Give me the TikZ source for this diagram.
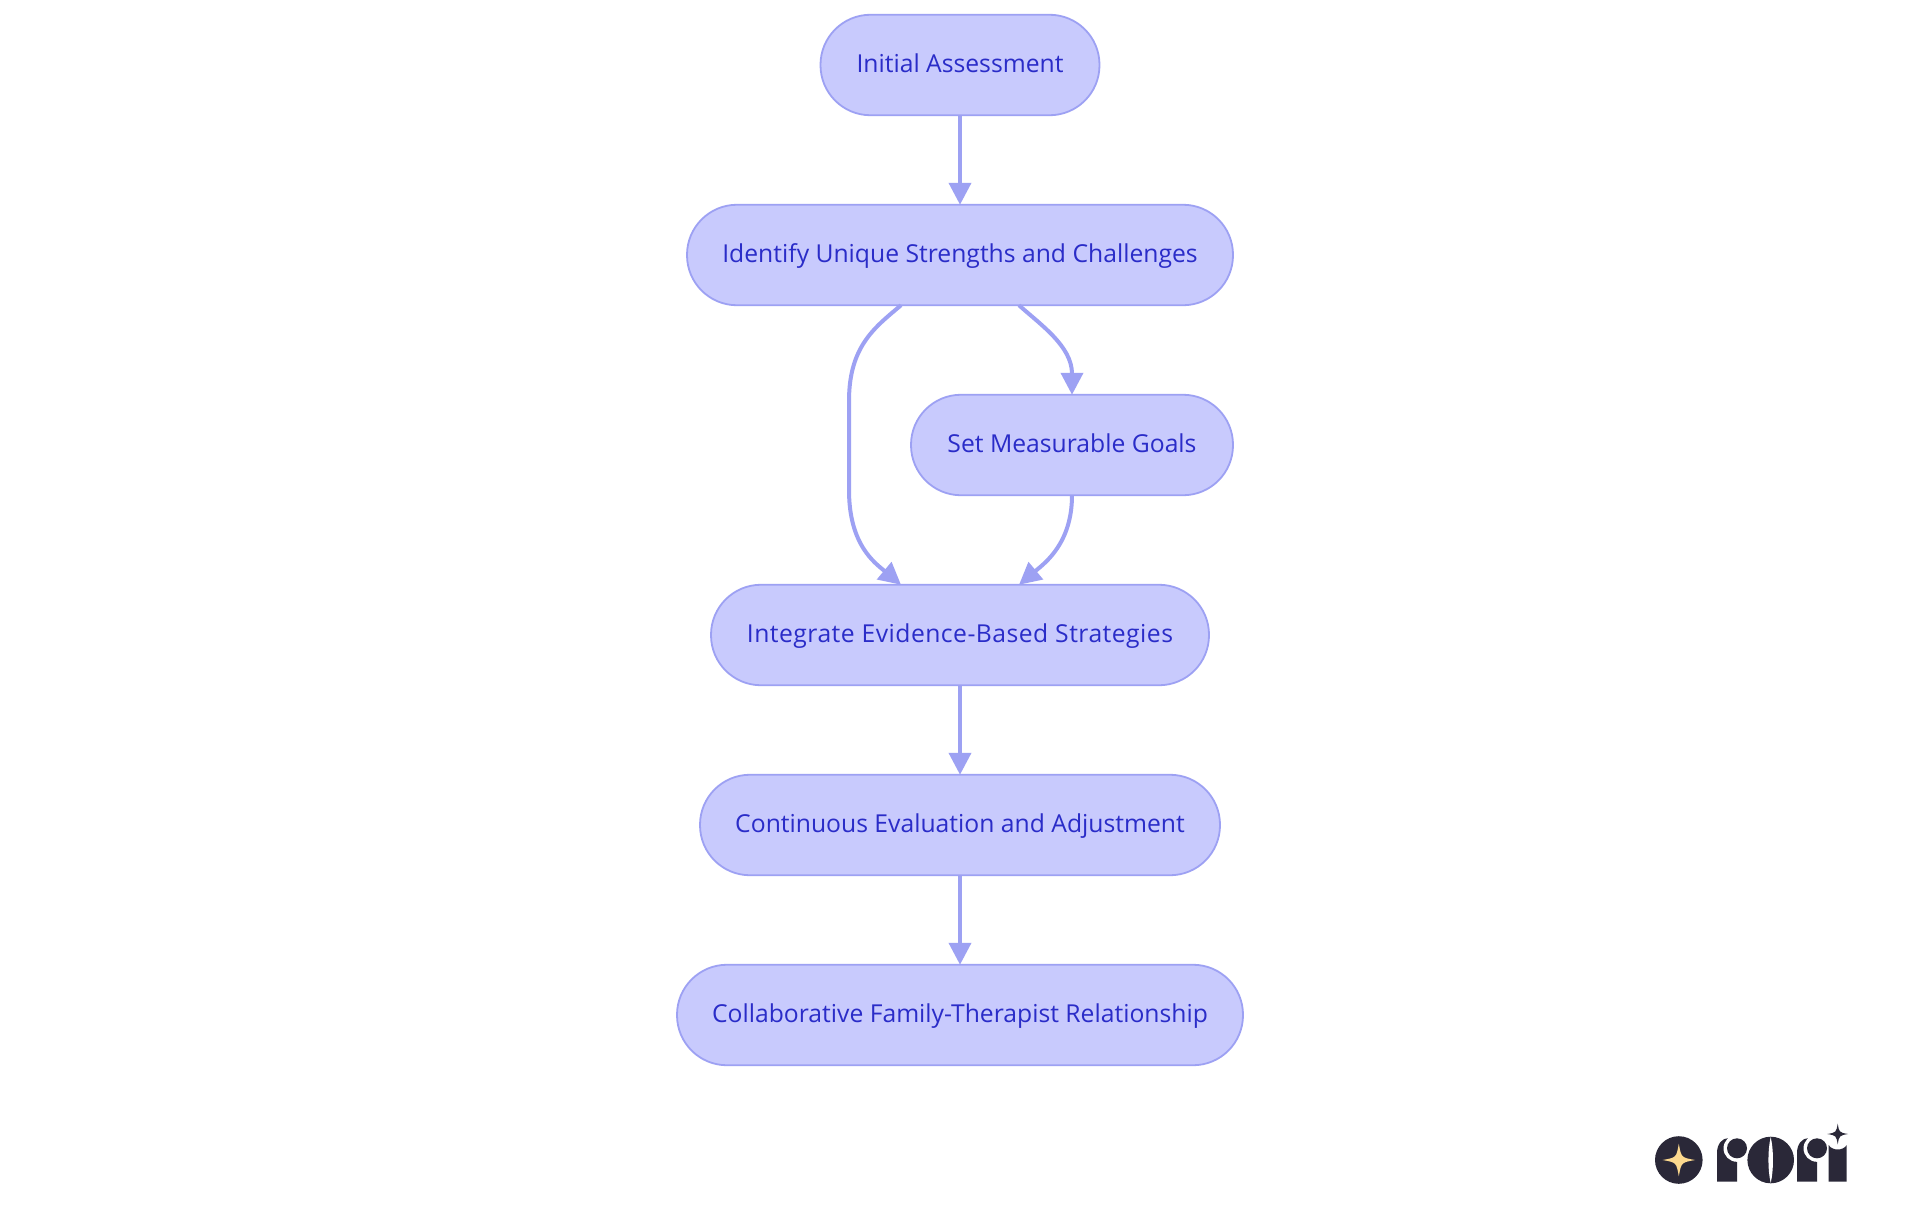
\documentclass[tikz,border=0pt]{standalone}
\usepackage{fontspec}
\setmainfont{Open Sans}
\usetikzlibrary{arrows.meta}
\definecolor{nodefill}{HTML}{C8CAFD}
\definecolor{nodeline}{HTML}{9DA1F3}
\definecolor{nodetext}{HTML}{2A2CC8}
\definecolor{logodark}{HTML}{2A2838}
\definecolor{logostar}{HTML}{FCD98E}
\tikzset{
  flowbox/.style={draw=nodeline,fill=nodefill,line width=1.8pt,outer sep=0pt,rounded corners=50pt,minimum height=100.5pt,text=nodetext,font=\fontsize{24.7}{30}\selectfont,inner sep=0pt,text height=20pt,text depth=5.2pt,anchor=center},
  flowline/.style={draw=nodeline,line width=4pt,-{Triangle[length=22pt,width=22pt]}},
}
\newcommand{\fourstar}[4]{\fill[#4] (#1+#3,#2) .. controls (#1+.15*#3,#2+.15*#3) .. (#1,#2+#3) .. controls (#1-.15*#3,#2+.15*#3) .. (#1-#3,#2) .. controls (#1-.15*#3,#2-.15*#3) .. (#1,#2-#3) .. controls (#1+.15*#3,#2-.15*#3) .. cycle;}
\begin{document}
\begin{tikzpicture}[x=1pt,y=-1pt]
\useasboundingbox (0,0) rectangle (1920,1215);
\fill[white] (0,0) rectangle (1920,1215);
\node[flowbox,minimum width=279pt] (a) at (960,65) {Initial Assessment};
\node[flowbox,minimum width=546pt] (b) at (960,255) {Identify Unique Strengths and Challenges};
\node[flowbox,minimum width=322pt] (c) at (1072,445) {Set Measurable Goals};
\node[flowbox,minimum width=498pt] (d) at (960,635) {\addfontfeature{LetterSpace=1.9}Integrate Evidence-Based Strategies};
\node[flowbox,minimum width=520pt] (e) at (960,825) {Continuous Evaluation and Adjustment};
\node[flowbox,minimum width=566pt] (f) at (960,1015) {Collaborative Family-Therapist Relationship};
\draw[flowline] (a.south) -- (b.north);
\draw[flowline] ([xshift=59pt]b.south) .. controls +(21,19) and (1072,346) .. (c.north);
\draw[flowline] ([xshift=-59pt]b.south) .. controls +(-26,22) and (849,346) .. (849,401) -- (849,490) .. controls (849,545) and (875,563) .. ([xshift=-59pt]d.north);
\draw[flowline] (c.south) .. controls +(0,48) and (1045,563) .. ([xshift=59pt]d.north);
\draw[flowline] (d.south) -- (e.north);
\draw[flowline] (e.south) -- (f.north);
% logo
\fill[logodark] (1678.8,1160) circle (23.8);
\fourstar{1678.8}{1160}{16.3}{logostar}
\fill[logodark] (1717,1181.7) -- (1717,1153) .. controls (1717,1144) and (1722,1138) .. (1729,1138) -- (1737,1148) -- (1737,1181.7) -- cycle;
\fill[white] (1737,1148.3) circle (13.5);
\fill[logodark] (1737,1148.3) circle (10);
\fill[logodark] (1770.7,1160) circle (23.3);
\fill[white] (1770.7,1137) .. controls (1767.7,1150) and (1767.7,1170) .. (1770.7,1183) .. controls (1773.7,1170) and (1773.7,1150) .. (1770.7,1137) -- cycle;
\fill[logodark] (1797,1181.7) -- (1797,1153) .. controls (1797,1144) and (1802,1138) .. (1809,1138) -- (1817,1148) -- (1817,1181.7) -- cycle;
\fill[white] (1817,1148.3) circle (13.5);
\fill[logodark] (1817,1148.3) circle (10);
\fill[logodark] (1828.7,1145) .. controls (1832,1151) and (1843.4,1151) .. (1846.7,1145) -- (1846.7,1181.7) -- (1828.7,1181.7) -- cycle;
\fourstar{1837.7}{1134}{10.3}{logodark}
\end{tikzpicture}
\end{document}
